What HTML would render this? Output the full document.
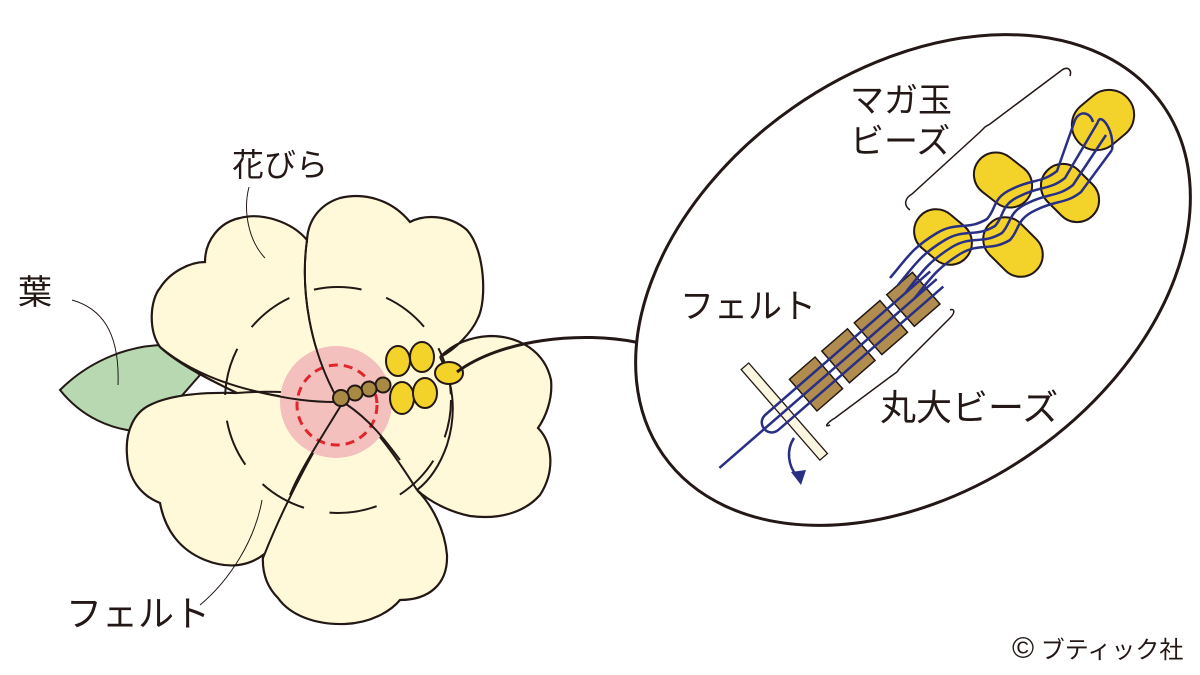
<!DOCTYPE html>
<html><head><meta charset="utf-8"><style>
html,body{margin:0;padding:0;background:#fff;}
svg{display:block;}
text{font-family:"Liberation Sans","Noto Sans CJK JP",sans-serif;fill:#231815;}
</style></head><body>
<svg width="1200" height="675" viewBox="0 0 1200 675" xmlns="http://www.w3.org/2000/svg">
<path d="M60,390 C90,360 130,345 165,345 L200,375 L150,432 C110,432 80,415 60,390 Z" fill="#b7d8b0" stroke="#231815" stroke-width="2"/>
<path d="M160,347 C148,330 150,300 160,288 C170,272 190,262 205,262 C205,240 220,222 240,218 C262,212 292,222 307,240
 C308,222 318,205 340,198 C365,192 392,200 410,222 C425,214 450,215 467,230 C485,250 487,300 478,318 C472,332 455,350 440,357
 C452,345 468,337 490,336 C520,336 545,352 551,380 C553,400 545,418 538,428 C552,442 556,470 540,495 C525,512 500,520 470,516 C450,512 430,502 417,490
 C432,505 445,530 447,555 C448,585 428,600 400,600 C390,612 370,623 345,624 C315,625 290,615 278,598 C265,585 262,570 263,555
 C250,565 230,570 205,560 C180,550 165,530 160,503 C140,495 128,478 127,455 C125,430 135,412 150,405 C170,395 200,392 237,393 C210,380 180,365 160,347 Z"
 fill="#fff9d9" stroke="#231815" stroke-width="2.2"/>
<g fill="none" stroke="#231815" stroke-width="2">
<path d="M307,240 C300,290 310,350 338,400"/>
<path d="M160,347 C200,380 260,398 335,402"/>
<path d="M237,393 C270,390 310,393 343,398"/>
<path d="M343,402 C320,440 290,490 263,558"/>
<path d="M346,404 C370,420 395,455 417,490"/>
<path d="M440,357 C452,380 458,410 447,445 C440,465 430,480 417,490"/>
</g>
<circle cx="338" cy="400" r="113" fill="none" stroke="#231815" stroke-width="2" stroke-dasharray="48 26" stroke-dashoffset="10"/>
<circle cx="336" cy="402" r="56" fill="#f3c0bd"/>
<circle cx="337" cy="405" r="40" fill="none" stroke="#e0262d" stroke-width="3" stroke-dasharray="9 6"/>
<path d="M307,240 C300,290 310,350 338,400" fill="none" stroke="#231815" stroke-width="2"/>
<path d="M250,390 C290,400 315,402 335,402" fill="none" stroke="#231815" stroke-width="2"/>
<path d="M343,402 C320,440 300,470 290,495" fill="none" stroke="#231815" stroke-width="2"/>
<path d="M346,404 C370,420 385,440 400,460" fill="none" stroke="#231815" stroke-width="2"/>
<g stroke="#231815" stroke-width="2">
<circle cx="383" cy="385" r="7.5" fill="#a88a45"/>
<circle cx="369" cy="389" r="7.5" fill="#a88a45"/>
<circle cx="355" cy="393" r="7.5" fill="#a88a45"/>
<circle cx="341" cy="398" r="8" fill="#a88a45"/>
<ellipse cx="398" cy="361" rx="12" ry="15" fill="#f3d32a"/>
<ellipse cx="422" cy="357" rx="12" ry="15" fill="#f3d32a"/>
<ellipse cx="402" cy="398" rx="12" ry="16" fill="#f3d32a"/>
<ellipse cx="425" cy="393" rx="12" ry="15" fill="#f3d32a"/>
<ellipse cx="449" cy="373" rx="14" ry="11" fill="#f3d32a"/>
</g>
<g fill="none" stroke="#231815" stroke-width="1">
<path d="M249,187 C243,210 248,240 265,258"/>
<path d="M72,300 C100,308 120,330 118,385"/>
<path d="M200,605 C230,580 255,540 262,500"/>
<path d="M762,325 C772,340 770,360 765,375"/>
</g>
<path d="M457,372 C500,340 580,330 640,343" fill="none" stroke="#231815" stroke-width="3"/>
<ellipse cx="913" cy="280" rx="305" ry="210" transform="rotate(-35 913 280)" fill="#fff" stroke="#231815" stroke-width="3"/>
<g fill="none" stroke="#231815" stroke-width="1.5">
<path d="M910,210 C903,205 905,198 912,194 L980,132 L985,127 L990,124 L1062,70 C1068,66 1072,70 1070,76"/>
<path d="M830,425 C823,428 828,422 835,418 L890,377 L897,372 L900,368 L950,318 C956,312 954,308 950,310"/>
</g>
<g transform="translate(816,384) rotate(-41)">
<rect x="-47" y="-60" width="10" height="120" fill="#fbf6df" stroke="#231815" stroke-width="1.3"/>
<g stroke="#231815" stroke-width="1.5" fill="#b08c4e">
<rect x="-17" y="-21" width="34" height="42"/>
<rect x="26" y="-21" width="34" height="42"/>
<rect x="69" y="-21" width="34" height="42"/>
<rect x="112" y="-21" width="34" height="42"/>
</g>
<g stroke="#2a2f86" stroke-width="2.5" fill="none">
<path d="M-128,0 L160,0"/>
<path d="M160,-10 L-58,-10 C-72,-10 -72,10 -58,10 L160,10"/>
</g>
</g>
<path d="M794,438 C786,450 788,466 797,476" fill="none" stroke="#2a2f86" stroke-width="2.5"/>
<path d="M791,472 L806,470 L801,485 Z" fill="#2a2f86"/>
<g stroke="#231815" stroke-width="2" fill="#f3d32a">
<rect x="912" y="215" width="62" height="44" rx="22" transform="rotate(40 943 237)"/>
<rect x="980" y="225" width="66" height="44" rx="22" transform="rotate(45 1013 247)"/>
<rect x="972" y="158" width="62" height="44" rx="22" transform="rotate(38 1003 180)"/>
<rect x="1038" y="171" width="64" height="44" rx="22" transform="rotate(45 1070 193)"/>
<rect x="1070" y="95" width="66" height="50" rx="25" transform="rotate(-40 1103 120)"/>
</g>
<g stroke="#2a2f86" stroke-width="2.5" fill="none">
<path d="M898,285 C915,265 920,255 945,240 C965,228 975,238 995,226 C1005,215 1000,205 1020,196 C1040,186 1050,190 1065,178 L1098,122"/>
<path d="M906,292 C922,272 928,262 952,247 C972,235 982,245 1002,233 C1012,222 1008,212 1028,203 C1048,193 1058,197 1073,185 L1106,135"/>
<path d="M914,299 C930,279 936,269 960,254 C980,242 990,252 1010,240 C1020,229 1016,219 1036,210 C1056,200 1066,204 1081,192 L1112,150"/>
<path d="M890,278 C907,258 912,248 937,233 C957,221 967,231 987,219 C997,208 992,198 1012,189 C1032,179 1042,183 1057,171 L1075,120 C1080,110 1090,112 1093,122"/>
<path d="M1098,122 C1100,112 1115,130 1112,150"/>
</g>
<text x="232" y="176" font-size="32">花びら</text>
<text x="18" y="304" font-size="34">葉</text>
<text x="66" y="626" font-size="36">フェルト</text>
<text x="850" y="112" font-size="34">マガ玉</text>
<text x="850" y="153" font-size="34">ビーズ</text>
<text x="680" y="318" font-size="34">フェルト</text>
<text x="880" y="420" font-size="36">丸大ビーズ</text>
<text x="1012" y="658" font-size="24"><tspan font-size="30">©</tspan> ブティック社</text>
</svg>
</body></html>
